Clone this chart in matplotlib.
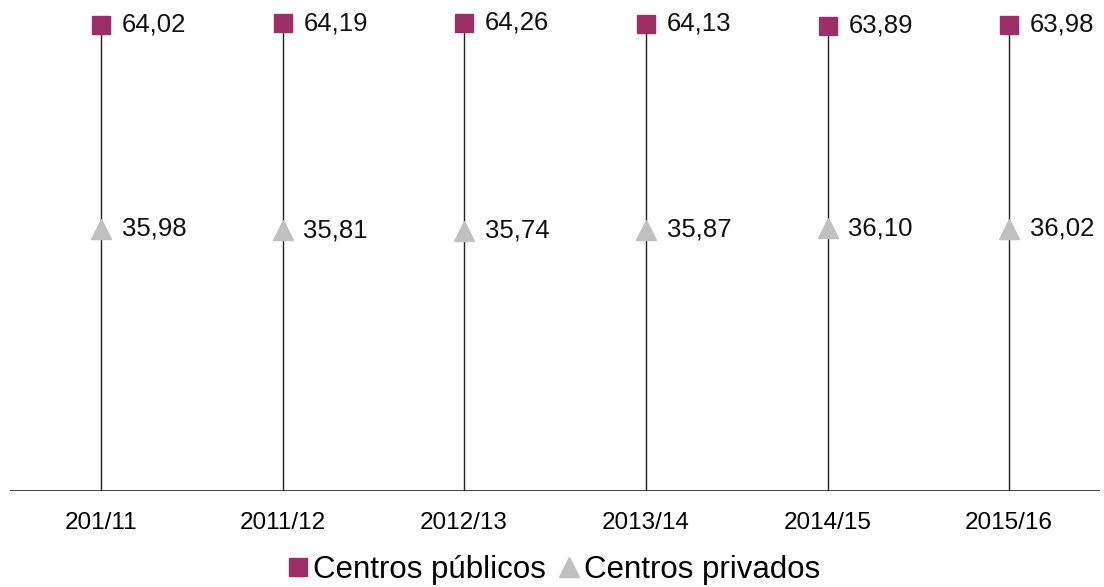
import matplotlib.pyplot as plt

# cursos y porcentajes de alumnado
cursos = ["201/11", "2011/12", "2012/13", "2013/14", "2014/15", "2015/16"]
publicos = [64.02, 64.19, 64.26, 64.13, 63.89, 63.98]
privados = [35.98, 35.81, 35.74, 35.87, 36.10, 36.02]

color_pub = "#9B2F66"
color_priv = "#C0C0C0"

plt.rcParams["font.family"] = ["Liberation Sans", "DejaVu Sans"]


def fmt(v):
    """formato con coma decimal"""
    return f"{v:.2f}".replace(".", ",")


fig = plt.figure(figsize=(11.04, 5.87), dpi=100)
ax = fig.add_axes([10 / 1104, 96 / 587, 1090 / 1104, 491 / 587])

x = list(range(len(cursos)))
ax.vlines(x, 0, publicos, color="#222222", linewidth=1)
ax.axhline(0, color="#222222", linewidth=1.2)

ax.plot(x, publicos, linestyle="none", marker="s", markersize=13,
        color=color_pub, label="Centros públicos", zorder=3)
ax.plot(x, privados, linestyle="none", marker="^", markersize=14,
        color=color_priv, label="Centros privados", zorder=3)

for xi, p, q in zip(x, publicos, privados):
    ax.annotate(fmt(p), (xi, p), xytext=(15, 0), textcoords="offset points",
                va="center", ha="left", fontsize=18.5, color="#111111")
    ax.annotate(fmt(q), (xi, q), xytext=(15, 0), textcoords="offset points",
                va="center", ha="left", fontsize=18.5, color="#111111")

ax.set_xlim(-0.5, 5.5)
ax.set_ylim(0, 67.4)
ax.set_xticks(x)
ax.set_xticklabels(cursos, fontsize=17.5)
ax.set_yticks([])
ax.tick_params(axis="x", length=0, pad=15)
for s in ax.spines.values():
    s.set_visible(False)

fig.legend(loc="lower center", bbox_to_anchor=(0.5, -0.045), ncol=2,
           frameon=False, fontsize=22.5, handletextpad=0.02,
           columnspacing=0.3, handlelength=0.9)

fig.savefig("out.png", dpi=100)
